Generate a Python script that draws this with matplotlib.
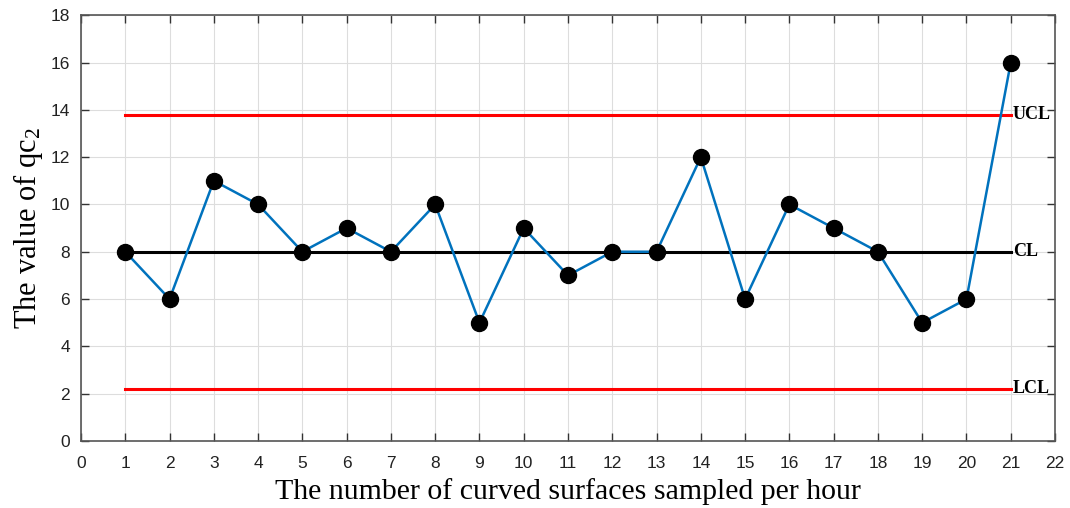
import matplotlib
matplotlib.use('Agg')
import matplotlib.pyplot as plt

plt.rcParams['mathtext.fontset'] = 'custom'
plt.rcParams['mathtext.rm'] = 'Liberation Serif'
plt.rcParams['mathtext.it'] = 'Liberation Serif:italic'

# samples per hour
samples = list(range(1, 22))
qc2 = [8, 6, 11, 10, 8, 9, 8, 10, 5, 9, 7, 8, 8, 12, 6, 10, 9, 8, 5, 6, 16]
ucl = 13.8
cl = 8
lcl = 2.2
limit_labels = ['UCL', 'CL', 'LCL']

fig = plt.figure(figsize=(10.7, 5.08), dpi=100)
ax = fig.add_axes([0.0757, 0.132, 0.9103, 0.838])

ax.plot([samples[0], samples[-1]], [ucl, ucl], color='#ff0000', lw=2.2)
ax.plot([samples[0], samples[-1]], [cl, cl], color='black', lw=2.2)
ax.plot([samples[0], samples[-1]], [lcl, lcl], color='#ff0000', lw=2.2)
ax.plot(samples, qc2, color='#0072BD', lw=1.8, marker='o', ms=11.5,
        mfc='black', mec='black', zorder=3)

for lab, val in zip(limit_labels, [ucl, cl, lcl]):
    ax.text(samples[-1] + 0.05, val, lab, fontfamily='Liberation Serif',
            fontweight='bold', fontsize=13, va='center', ha='left')

ax.set_xlim(0, 22)
ax.set_ylim(0, 18)
ax.set_xticks(range(0, 23))
ax.set_yticks(range(0, 19, 2))
ax.grid(True, color='#dddddd', lw=0.8)
ax.set_axisbelow(True)
ax.tick_params(direction='in', length=6, width=1, color='#333333',
               labelsize=12.5, labelcolor='#222222', pad=8,
               top=True, right=True)
ax.tick_params(axis='x', pad=11)
for lab in ax.get_xticklabels() + ax.get_yticklabels():
    lab.set_fontfamily('Liberation Sans')
for s in ax.spines.values():
    s.set_color('#555555')
    s.set_linewidth(1.2)

ax.set_xlabel('The number of curved surfaces sampled per hour',
              fontfamily='Liberation Serif', fontsize=21.5, labelpad=5)
ax.set_ylabel(r'The value of qc$_{\mathrm{2}}$', fontfamily='Liberation Serif',
              fontsize=22, labelpad=4)

fig.savefig('out.png')
